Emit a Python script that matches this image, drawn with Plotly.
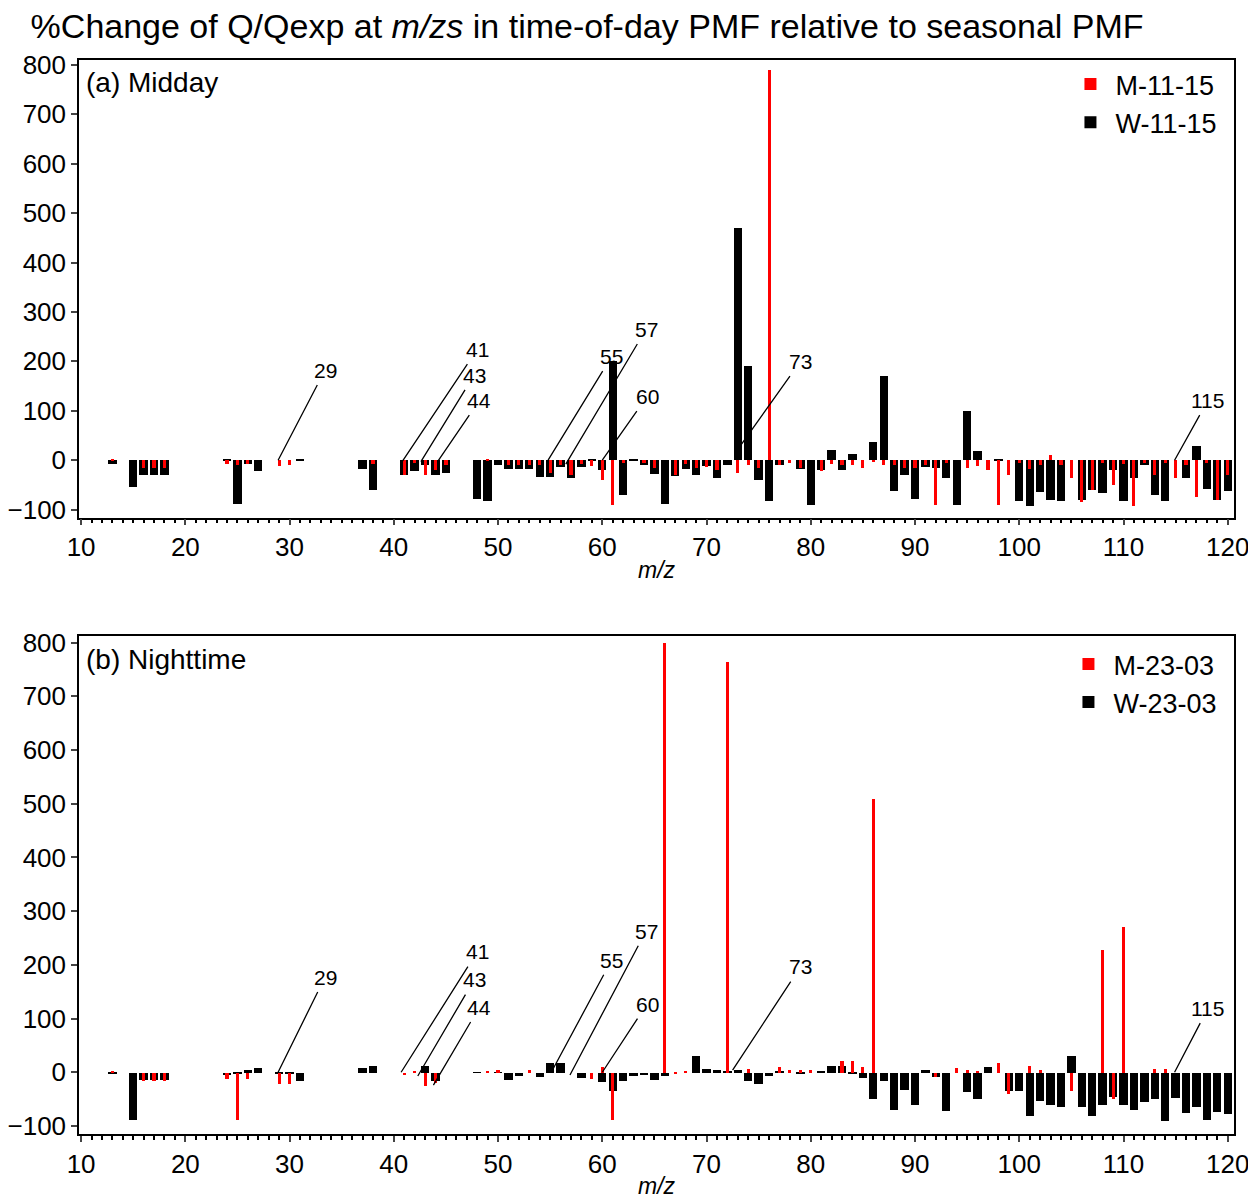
import plotly.graph_objects as go
from plotly.subplots import make_subplots

mz = list(range(12, 121))

# (a) Midday: m/z -> value (missing = 0)
mid_W = {13: -8, 15: -55, 16: -30, 17: -30, 18: -30, 24: 3, 25: -88, 26: -8, 27: -22, 31: 1,
         37: -18, 38: -60, 41: -30, 42: -22, 43: -10, 44: -30, 45: -25, 48: -78, 49: -82,
         50: -10, 51: -17, 52: -17, 53: -18, 54: -33, 55: -33, 56: -13, 57: -35, 58: -13,
         59: 2, 60: -20, 61: 200, 62: -70, 63: 2, 64: -10, 65: -28, 66: -88, 67: -32,
         68: -17, 69: -30, 70: -12, 71: -37, 72: -10, 73: 470, 74: 190, 75: -40, 76: -82,
         77: -10, 79: -18, 80: -90, 81: -20, 82: 20, 83: -20, 84: 13, 86: 36, 87: 170,
         88: -62, 89: -30, 90: -78, 91: -13, 92: -15, 93: -35, 94: -90, 95: 100, 96: 18,
         98: 3, 100: -82, 101: -93, 102: -65, 103: -80, 104: -82, 106: -80, 107: -60,
         108: -67, 109: -20, 110: -82, 111: -35, 112: -10, 113: -70, 114: -82, 116: -35,
         117: 28, 118: -58, 119: -80, 120: -63}
mid_M = {13: 3, 16: -15, 17: -15, 18: -15, 24: -8, 25: -10, 26: -8, 29: -12, 30: -10,
         38: -7, 41: -30, 42: -5, 43: -30, 44: -20, 45: -10, 49: 2, 51: -10, 52: -10,
         53: -10, 54: -10, 55: -25, 56: -10, 57: -30, 58: -8, 59: -12, 60: -40, 61: -90,
         62: -5, 64: -5, 65: -15, 67: -30, 68: -8, 69: -15, 70: -14, 71: -20, 73: -25,
         74: -10, 75: -15, 76: 790, 77: -10, 78: -5, 79: -15, 81: -22, 82: -8, 83: -10,
         84: -10, 85: -16, 86: -3, 87: -10, 88: -10, 89: -15, 90: -15, 91: -10, 92: -90,
         93: -5, 95: -15, 96: -12, 97: -20, 98: -90, 99: -30, 100: -5, 101: -17, 102: -10,
         103: 10, 104: -10, 105: -35, 106: -85, 107: -60, 108: -5, 109: -50, 110: -8,
         111: -92, 112: -5, 113: -30, 114: -5, 115: -35, 116: -10, 117: -75, 118: -5,
         119: -80, 120: -30}

# (b) Nighttime
night_W = {13: -2, 15: -88, 16: -13, 17: -13, 18: -13, 24: -5, 25: -3, 26: 5, 27: 8, 29: -2,
           30: -2, 31: -15, 37: 8, 38: 12, 43: 13, 44: -15, 48: 1, 50: 1, 51: -13, 52: -7,
           54: -8, 55: 18, 56: 17, 58: -10, 60: -18, 61: -35, 62: -15, 63: -7, 64: -5,
           65: -13, 66: -7, 69: 30, 70: 7, 71: 5, 72: 3, 73: 5, 74: -15, 75: -22, 76: -7,
           77: 2, 79: -3, 81: 2, 82: 13, 83: 13, 84: -2, 85: -10, 86: -50, 87: -15, 88: -70,
           89: -33, 90: -60, 91: 5, 92: -8, 93: -72, 95: -37, 96: -50, 97: 10, 99: -35,
           100: -35, 101: -80, 102: -52, 103: -60, 104: -65, 105: 30, 106: -65, 107: -80,
           108: -60, 109: -45, 110: -60, 111: -70, 112: -55, 113: -50, 114: -90, 115: -48,
           116: -75, 117: -65, 118: -88, 119: -73, 120: -78}
night_M = {13: 3, 16: -15, 17: -15, 18: -15, 24: -12, 25: -88, 26: -12, 29: -22, 30: -22,
           41: -4, 42: 3, 43: -25, 44: -20, 49: 2, 50: 5, 53: 5, 59: -12, 60: 10, 61: -88,
           66: 800, 67: -3, 68: 2, 72: 765, 74: 7, 77: 10, 78: 5, 79: 5, 80: 5, 83: 22,
           84: 22, 85: 10, 86: 510, 92: -8, 94: 8, 95: 5, 96: 3, 98: 18, 99: -40, 101: 12,
           102: 5, 105: -35, 108: 228, 109: -50, 110: 272, 113: 7, 114: 7}

# label text, tip (x, y), text position (x, y)
labels_a = [("29", 28.9, 0, 33.4, 182), ("41", 40.8, -3, 48.0, 224), ("43", 42.6, -3, 47.7, 172),
            ("44", 44.2, -3, 48.2, 121), ("55", 54.8, 0, 60.9, 210), ("57", 56.5, -8, 64.2, 265),
            ("60", 60.0, 0, 64.3, 129), ("73", 73.0, 22, 79.0, 200), ("115", 114.9, 0, 118.1, 121)]
labels_b = [("29", 28.9, 0, 33.4, 177), ("41", 40.7, 0, 48.0, 224), ("43", 42.3, -7, 47.7, 172),
            ("44", 43.8, -24, 48.2, 121), ("55", 55.3, 7, 60.9, 209), ("57", 56.9, -5, 64.2, 263),
            ("60", 60.0, 0, 64.3, 127), ("73", 72.5, 4, 79.0, 196), ("115", 114.9, 0, 118.1, 119)]

FONT = "Liberation Sans, Arial, sans-serif"

fig = make_subplots(rows=2, cols=1, vertical_spacing=0.11)


def vals(d):
    return [d.get(m, 0) for m in mz]


fig.add_trace(go.Bar(x=mz, y=vals(mid_W), width=0.8, marker_color="black", name="W-11-15",
                     legend="legend", legendrank=2), row=1, col=1)
fig.add_trace(go.Bar(x=mz, y=vals(mid_M), width=0.3, marker_color="#ff0000", name="M-11-15",
                     legend="legend", legendrank=1), row=1, col=1)
fig.add_trace(go.Bar(x=mz, y=vals(night_W), width=0.8, marker_color="black", name="W-23-03",
                     legend="legend2", legendrank=2), row=2, col=1)
fig.add_trace(go.Bar(x=mz, y=vals(night_M), width=0.3, marker_color="#ff0000", name="M-23-03",
                     legend="legend2", legendrank=1), row=2, col=1)
fig.update_traces(marker_line_width=0)

for labs, xr, yr in [(labels_a, "x", "y"), (labels_b, "x2", "y2")]:
    for t, x, y, tx, ty in labs:
        fig.add_annotation(x=x, y=y, ax=tx, ay=ty, xref=xr, yref=yr, axref=xr, ayref=yr,
                           text=t, showarrow=True, arrowhead=0, arrowwidth=1.3,
                           arrowcolor="black", font=dict(size=21, color="black"),
                           standoff=0, startstandoff=2)

fig.add_annotation(x=0.004, y=0.995, xref="paper", yref="paper", text="(a) Midday",
                   showarrow=False, xanchor="left", yanchor="top", font=dict(size=28))
fig.add_annotation(x=0.004, y=0.458, xref="paper", yref="paper", text="(b) Nighttime",
                   showarrow=False, xanchor="left", yanchor="top", font=dict(size=28))

axis_common = dict(showline=True, linecolor="black", linewidth=1.5, mirror=True,
                   ticks="outside", ticklen=6, tickwidth=1.5, showgrid=False, zeroline=False,
                   automargin=False, tickfont=dict(size=26, color="black"))
fig.update_xaxes(range=[9.8, 120.6], dtick=10, tick0=10,
                 minor=dict(ticks="outside", dtick=1, ticklen=4, tickcolor="black"),
                 title=dict(text="<i>m/z</i>", font=dict(size=23), standoff=0), **axis_common)
fig.update_yaxes(dtick=100, **axis_common)
fig.update_yaxes(range=[-116, 810], row=1, col=1)
fig.update_yaxes(range=[-115, 813], row=2, col=1)
fig.update_yaxes(domain=[0.574, 1], row=1, col=1)
fig.update_yaxes(domain=[0, 0.464], row=2, col=1)

leg = dict(xanchor="right", yanchor="top", bgcolor="rgba(0,0,0,0)", font=dict(size=27),
           itemwidth=40, tracegroupgap=0, itemsizing="constant")
fig.update_layout(
    barmode="overlay", bargap=0,
    template="plotly_white",
    width=1256, height=1199,
    margin=dict(l=71, r=30, t=52, b=73),
    font=dict(family=FONT, color="black"),
    title=dict(text="%Change of Q/Qexp at <i>m/zs</i> in time-of-day PMF relative to seasonal PMF",
               x=0.018, xanchor="left", y=0.995, yanchor="top", font=dict(size=34)),
    legend=dict(x=0.99, y=1.0, **leg),
    legend2=dict(x=0.99, y=0.46, **leg),
    plot_bgcolor="white",
)

fig.write_html("out.html")
